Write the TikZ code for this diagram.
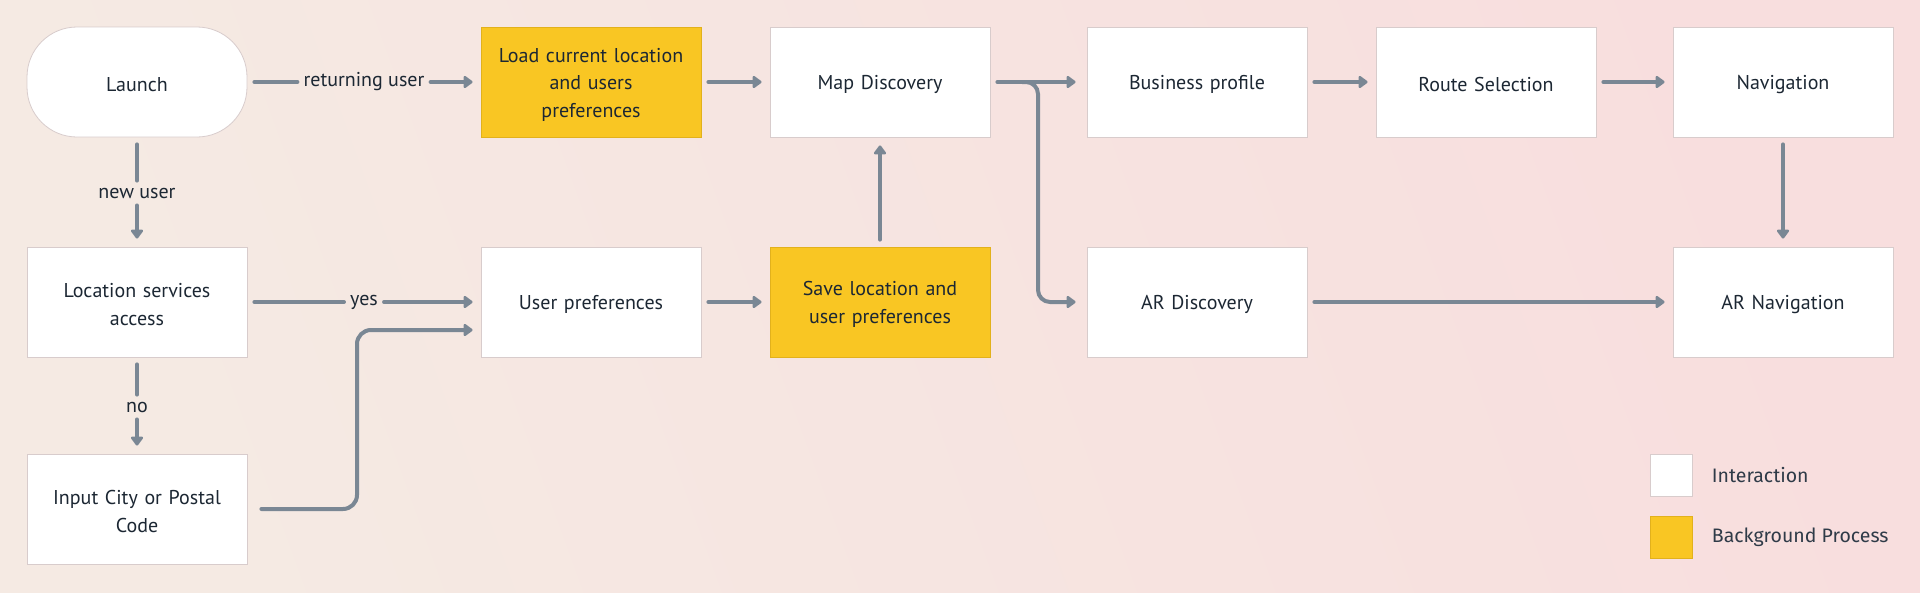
\documentclass[tikz,border=0pt]{standalone}
\usepackage{fontspec}
\setmainfont{PT Sans}
\newfontfamily\legendfont{Fira Sans}
\usetikzlibrary{arrows.meta,positioning}

\definecolor{bgleft}{HTML}{F5EAE3}
\definecolor{bgright}{HTML}{F8DEDE}
\definecolor{boxline}{HTML}{D8CCCC}
\definecolor{procfill}{HTML}{F9C623}
\definecolor{procline}{HTML}{E2B11C}
\definecolor{flowgray}{HTML}{7A8794}
\definecolor{textdark}{HTML}{1C2733}
\definecolor{legendtext}{HTML}{2F3B48}

\begin{document}
\begin{tikzpicture}[x=1pt, y=-1pt,
        font=\fontsize{20}{27.5}\selectfont, text=textdark,
        interact/.style = {draw=boxline, line width=0.8pt, fill=white,
            minimum width=220pt, minimum height=110pt, align=center, text width=205pt,
            execute at begin node={\rule{0pt}{19pt}}},
        process/.style = {interact, draw=procline, fill=procfill},
        flow/.style = {draw=flowgray, line width=4pt, line cap=round, shorten <=7pt},
        flowarrow/.style = {flow, -{Triangle[length=10pt,width=14pt,round]}, shorten >=8pt},
        flowlabel/.style = {inner xsep=6pt, inner ysep=7pt}]
    % background
    \shade[left color=bgleft, right color=bgright, shading angle=110] (0,0) rectangle (1920,592);
    \useasboundingbox (0,0) rectangle (1920,592);

    % first row
    \node [interact, rounded corners=50pt] (launch) at (137,82) {Launch};
    \node [process] (load) at (591,82) {Load current location\\ and users\\ preferences};
    \node [interact] (mapdisc) at (880,82) {Map Discovery};
    \node [interact] (business) at (1197,82) {Business profile};
    \node [interact] (route) at (1486,82) {Route Selection};
    \node [interact] (navig) at (1783,82) {Navigation};

    % second row
    \node [interact] (locserv) at (137,302) {Location services\\ access};
    \node [interact] (userpref) at (591,302) {User preferences};
    \node [process] (savepref) at (880,302) {Save location and\\ user preferences};
    \node [interact] (ardisc) at (1197,302) {AR Discovery};
    \node [interact] (arnav) at (1783,302) {AR Navigation};

    % third row
    \node [interact] (inputcity) at (137,509) {Input City or Postal\\ Code};

    % labels on the connectors
    \node [flowlabel] (lret) at (364,82) {returning user};
    \node [flowlabel] (lnew) at (137,193) {new user};
    \node [flowlabel] (lyes) at (364,302) {yes};
    \node [flowlabel] (lno) at (137,407) {no};

    \coordinate (cityturn) at (357,330);
    \coordinate (mapsplit) at (1038,82);

    % connectors
    \draw [flow] (launch) -- (lret);
    \draw [flowarrow, shorten <=0pt] (lret) -- (load);
    \draw [flow] (launch) -- (lnew);
    \draw [flowarrow, shorten <=0pt] (lnew) -- (locserv);
    \draw [flow] (locserv) -- (lyes);
    \draw [flowarrow, shorten <=0pt] (lyes) -- (userpref);
    \draw [flow] (locserv) -- (lno);
    \draw [flowarrow, shorten <=0pt] (lno) -- (inputcity);
    \draw [flowarrow, rounded corners=14pt] ([xshift=7pt]inputcity.east) -| (cityturn) -- ([yshift=-28pt]userpref.west);
    \draw [flowarrow] (load) -- (mapdisc);
    \draw [flowarrow] (userpref) -- (savepref);
    \draw [flowarrow] (savepref) -- (mapdisc);
    \draw [flowarrow, shorten >=11pt] (mapdisc) -- (business);
    \draw [flowarrow, shorten <=0pt, shorten >=11pt, rounded corners=12pt] ([xshift=-16pt]mapsplit) -- (mapsplit) |- (ardisc.west);
    \draw [flowarrow] (business) -- (route);
    \draw [flowarrow] (route) -- (navig);
    \draw [flowarrow] (navig) -- (arnav);
    \draw [flowarrow] (ardisc) -- (arnav);

    % legend
    \node [interact, minimum width=42pt, minimum height=42pt, text width=, inner sep=0pt, execute at begin node=] (keyint) at (1671,475) {};
    \node [process, minimum width=42pt, minimum height=42pt, text width=, inner sep=0pt, execute at begin node=] (keyproc) at (1671,537) {};
    \node [right=16pt of keyint, anchor=west, text=legendtext, font=\legendfont\fontsize{19.5}{22}\selectfont] (tint) {Interaction};
    \node [right=16pt of keyproc, anchor=west, text=legendtext, font=\legendfont\fontsize{19.5}{22}\selectfont] (tproc) {Background Process};
\end{tikzpicture}
\end{document}
